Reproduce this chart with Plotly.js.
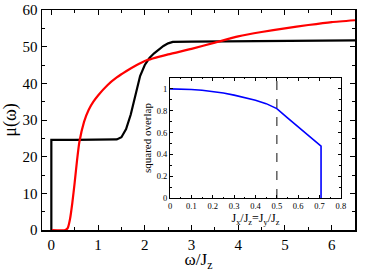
<!DOCTYPE html>
<html>
<head>
<meta charset="utf-8">
<script src="https://cdn.plot.ly/plotly-3.0.1.min.js"></script>
<style>html,body{margin:0;padding:0;background:#fff;}#chart{width:374px;height:272px;}</style>
</head>
<body>
<div id="chart"></div>
<script>
// Main chart: black curve
var blackX = [0, 0, 0.5, 1.0, 1.4, 1.5, 1.6, 1.7, 1.8, 1.9, 2.0, 2.1, 2.2, 2.3, 2.4, 2.5, 2.6, 3, 4, 5, 6, 6.5];
var blackY = [0, 24.6, 24.6, 24.6, 24.7, 25.3, 27.5, 31.5, 37, 42, 45, 46.9, 48.2, 49.3, 50.2, 50.9, 51.3, 51.4, 51.5, 51.6, 51.7, 51.7];
// Main chart: red curve
var redX = [0, 0.3, 0.35, 0.4, 0.45, 0.5, 0.55, 0.6, 0.7, 0.8, 0.9, 1.0, 1.2, 1.4, 1.6, 1.8, 2.0, 2.5, 3.0, 3.5, 4, 4.5, 5, 5.5, 6, 6.5];
var redY = [0, 0, 0.5, 3, 7.5, 13, 19, 24, 29.5, 32.8, 35, 36.7, 39.5, 41.6, 43.3, 44.8, 46.1, 47.9, 49.4, 51.1, 52.8, 54.0, 55.0, 55.9, 56.7, 57.2];
// Inset: squared overlap
var blueX = [0, 0.05, 0.1, 0.15, 0.2, 0.25, 0.3, 0.35, 0.4, 0.45, 0.5, 0.55, 0.6, 0.65, 0.7, 0.707, 0.707];
var blueY = [1.0, 0.998, 0.994, 0.987, 0.977, 0.962, 0.943, 0.922, 0.897, 0.865, 0.82, 0.735, 0.65, 0.565, 0.485, 0.475, 0];
// Inset: dashed marker
var dashX = [0.5, 0.5];
var dashY = [0, 1.1];

var mainXTicks = [0, 1, 2, 3, 4, 5, 6];
var mainYTicks = [0, 10, 20, 30, 40, 50, 60];
var insetXTicks = [0, 0.1, 0.2, 0.3, 0.4, 0.5, 0.6, 0.7, 0.8];
var insetXLabels = ['0', '0.1', '0.2', '0.3', '0.4', '0.5', '0.6', '0.7', '0.8'];
var insetYTicks = [0, 0.2, 0.4, 0.6, 0.8, 1];
var insetYLabels = ['0', '0.2', '0.4', '0.6', '0.8', '1'];

var serif = 'Liberation Serif, Times New Roman, serif';

var traces = [
  {x: blackX, y: blackY, mode: 'lines', line: {color: '#000', width: 2.2}, xaxis: 'x', yaxis: 'y', hoverinfo: 'skip'},
  {x: redX, y: redY, mode: 'lines', line: {color: '#ff0000', width: 2.2, shape: 'spline', smoothing: 0.5}, xaxis: 'x', yaxis: 'y', hoverinfo: 'skip'},
  {x: dashX, y: dashY, mode: 'lines', line: {color: '#555', width: 1.4, dash: 'dash'}, xaxis: 'x2', yaxis: 'y2', hoverinfo: 'skip'},
  {x: blueX, y: blueY, mode: 'lines', line: {color: '#0000ff', width: 1.6}, xaxis: 'x2', yaxis: 'y2', hoverinfo: 'skip'}
];

var layout = {
  width: 374, height: 272,
  margin: {l: 42, r: 19, t: 10, b: 42},
  paper_bgcolor: '#fff', plot_bgcolor: '#fff',
  showlegend: false,
  font: {family: serif, color: '#000'},
  xaxis: {
    domain: [0, 1], range: [-0.2, 6.5],
    tickvals: mainXTicks, ticktext: mainXTicks.map(String),
    ticks: 'inside', ticklen: 5, tickwidth: 1, tickcolor: '#000',
    minor: {dtick: 0.5, tick0: 0, ticks: 'inside', ticklen: 3, tickwidth: 1, tickcolor: '#000'},
    showline: true, linewidth: 1.5, linecolor: '#000', mirror: 'allticks',
    showgrid: false, zeroline: false,
    tickfont: {size: 15, family: serif},
    title: {text: 'ω/J<sub>z</sub>', font: {size: 17, family: serif}, standoff: 0}
  },
  yaxis: {
    domain: [0, 1], range: [0, 60],
    tickvals: mainYTicks, ticktext: mainYTicks.map(String),
    ticks: 'inside', ticklen: 5, tickwidth: 1, tickcolor: '#000',
    minor: {dtick: 5, tick0: 0, ticks: 'inside', ticklen: 3, tickwidth: 1, tickcolor: '#000'},
    showline: true, linewidth: 1.5, linecolor: '#000', mirror: 'allticks',
    showgrid: false, zeroline: false,
    tickfont: {size: 15, family: serif},
    title: {text: 'μ(ω)', font: {size: 18, family: serif}, standoff: 2}
  },
  xaxis2: {
    domain: [0.409, 0.955], range: [0, 0.8], anchor: 'y2',
    tickvals: insetXTicks, ticktext: insetXLabels,
    ticks: 'inside', ticklen: 3, tickwidth: 1, tickcolor: '#000',
    minor: {dtick: 0.05, tick0: 0, ticks: 'inside', ticklen: 1.5, tickwidth: 1, tickcolor: '#000'},
    showline: true, linewidth: 1, linecolor: '#000', mirror: 'allticks',
    showgrid: false, zeroline: false,
    tickfont: {size: 8.5, family: serif},
    title: {text: 'J<sub>x</sub>/J<sub>z</sub>=J<sub>y</sub>/J<sub>z</sub>', font: {size: 12, family: serif}, standoff: 0}
  },
  yaxis2: {
    domain: [0.145, 0.691], range: [0, 1.1], anchor: 'x2',
    tickvals: insetYTicks, ticktext: insetYLabels,
    ticks: 'inside', ticklen: 3, tickwidth: 1, tickcolor: '#000',
    minor: {dtick: 0.1, tick0: 0, ticks: 'inside', ticklen: 1.5, tickwidth: 1, tickcolor: '#000'},
    showline: true, linewidth: 1, linecolor: '#000', mirror: 'allticks',
    showgrid: false, zeroline: false,
    tickfont: {size: 8.5, family: serif},
    title: {text: 'squared overlap', font: {size: 11, family: serif}, standoff: 2}
  }
};

Plotly.newPlot('chart', traces, layout, {staticPlot: true, displayModeBar: false});
</script>
</body>
</html>
